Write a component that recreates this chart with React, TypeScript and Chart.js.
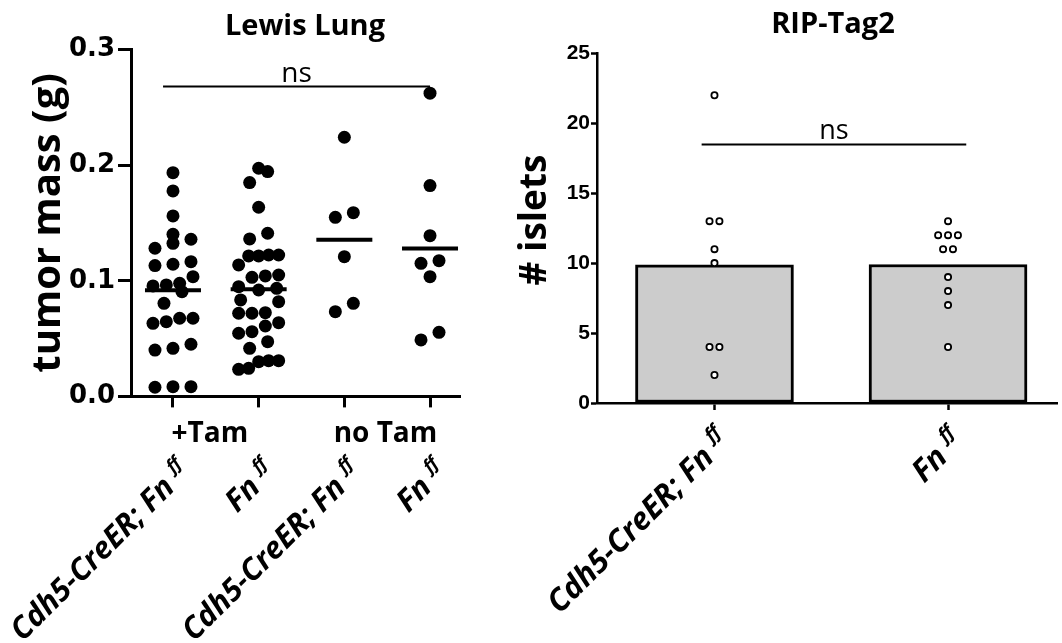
import React, { useEffect, useRef } from "react";
import { Chart, registerables } from "chart.js";

Chart.register(...registerables);

// ---------------- DATA ----------------
// Lewis Lung tumor mass (g)
const lewisCategories = ["Cdh5-CreER; Fn", "Fn", "Cdh5-CreER; Fn", "Fn"];
const lewisSuperscript = "ff";
const lewisGroupLabels = ["+Tam", "no Tam"];
const lewisTitle = "Lewis Lung";
const lewisYTitle = "tumor mass (g)";
const lewisYTicks = [0, 0.1, 0.2, 0.3];
const lewisSignif = "ns";

const tamCdh5 = [
  0.1935, 0.1777, 0.1561, 0.1359, 0.1324, 0.1402, 0.1281, 0.1165, 0.1131, 0.1143,
  0.1035, 0.0964, 0.0955, 0.0906, 0.0978, 0.0805, 0.0676, 0.0632, 0.0646, 0.0676,
  0.0416, 0.0401, 0.0451, 0.0084, 0.0079, 0.0084,
];
const tamFn = [
  0.1944, 0.1973, 0.1849, 0.1636, 0.1411, 0.1362, 0.1215, 0.1223, 0.1137, 0.1223,
  0.1215, 0.1042, 0.103, 0.105, 0.0949, 0.0935, 0.092, 0.0834, 0.0819, 0.0719,
  0.0719, 0.0724, 0.0609, 0.0546, 0.056, 0.0638, 0.0473, 0.0416, 0.0309, 0.0309,
  0.0234, 0.0243, 0.03,
];
const noTamCdh5 = [0.2241, 0.1549, 0.1589, 0.1208, 0.0733, 0.0805];
const noTamFn = [0.2622, 0.1823, 0.139, 0.1151, 0.1174, 0.1035, 0.0488, 0.0554];

// RIP-Tag2 islet counts
const ripCategories = ["Cdh5-CreER; Fn", "Fn"];
const ripSuperscript = "ff";
const ripTitle = "RIP-Tag2";
const ripYTitle = "# islets";
const ripYTicks = [0, 5, 10, 15, 20, 25];
const ripSignif = "ns";
const ripCdh5 = [22, 13, 13, 11, 10, 4, 4, 2];
const ripFn = [13, 12, 12, 12, 11, 11, 9, 8, 7, 4];

// ---------------- LAYOUT ----------------
const H = 643;
const L = { w: 500, left: 131, right: 460, top: 49.5, bottom: 396.4, xMin: -0.49, xMax: 3.35, yMax: 0.3 };
const R = { w: 562, left: 97, right: 562, top: 53.3, bottom: 403, xMin: -0.503, xMax: 1.467, yMax: 25 };

const mean = (a: number[]) => a.reduce((s, v) => s + v, 0) / a.length;

// Prism-like row swarm: values close together share a row and are spread horizontally
function swarm(values: number[], center: number, rowH: number, stepX: number, maxHalf: number) {
  const sorted = [...values].sort((a, b) => a - b);
  const out: { x: number; y: number }[] = [];
  let k = 0;
  while (k < sorted.length) {
    let j = k;
    while (j + 1 < sorted.length && sorted[j + 1] - sorted[k] < rowH) j++;
    const n = j - k + 1;
    const step = n > 1 ? Math.min(stepX, (2 * maxHalf) / (n - 1)) : 0;
    for (let m = 0; m < n; m++) out.push({ x: center + (m - (n - 1) / 2) * step, y: sorted[k + m] });
    k = j + 1;
  }
  return out;
}

const FONT = "'Open Sans', 'DejaVu Sans', sans-serif";

function drawRotLabel(ctx: CanvasRenderingContext2D, ax: number, ay: number, main: string, sup: string, size: number, supSize: number, gap: number, raise: number) {
  ctx.save();
  ctx.translate(ax, ay);
  ctx.rotate(-Math.PI / 4);
  ctx.fillStyle = "#000";
  ctx.font = `italic bold ${size}px ${FONT}`;
  ctx.textAlign = "right";
  ctx.textBaseline = "alphabetic";
  ctx.fillText(main, 0, 0);
  ctx.font = `italic bold ${supSize}px ${FONT}`;
  ctx.textAlign = "left";
  ctx.fillText(sup, gap, -raise);
  ctx.restore();
}

function drawSignif(ctx: CanvasRenderingContext2D, x1: number, x2: number, y: number, text: string, size: number, lift: number) {
  ctx.save();
  ctx.strokeStyle = "#000";
  ctx.lineWidth = 2;
  ctx.beginPath();
  ctx.moveTo(x1, y);
  ctx.lineTo(x2, y);
  ctx.stroke();
  ctx.fillStyle = "#000";
  ctx.font = `${size}px ${FONT}`;
  ctx.textAlign = "center";
  ctx.textBaseline = "alphabetic";
  ctx.fillText(text, (x1 + x2) / 2, y - lift);
  ctx.restore();
}

function drawText(ctx: CanvasRenderingContext2D, text: string, x: number, y: number, font: string, rot = 0, baseline: CanvasTextBaseline = "alphabetic") {
  ctx.save();
  ctx.translate(x, y);
  ctx.rotate(rot);
  ctx.fillStyle = "#000";
  ctx.font = font;
  ctx.textAlign = "center";
  ctx.textBaseline = baseline;
  ctx.fillText(text, 0, 0);
  ctx.restore();
}

function LewisChart() {
  const ref = useRef<HTMLCanvasElement>(null);
  useEffect(() => {
    const groups = [tamCdh5, tamFn, noTamCdh5, noTamFn];
    const pxX = (L.right - L.left) / (L.xMax - L.xMin);
    const pxY = (L.bottom - L.top) / L.yMax;
    const dots = groups.map((vals, i) => ({
      type: "scatter" as const,
      data: swarm(vals, i, 13 / pxY, 18 / pxX, 20 / pxX),
      pointRadius: 6.5,
      pointHoverRadius: 6.5,
      pointBackgroundColor: "#000",
      pointBorderWidth: 0,
      order: 2,
    }));
    const means = {
      type: "scatter" as const,
      data: groups.map((v, i) => ({ x: i, y: mean(v) })),
      pointStyle: "line" as const,
      pointRadius: 28,
      pointHoverRadius: 28,
      pointBorderWidth: 4,
      pointBorderColor: "#000",
      order: 1,
    };
    const annot = {
      id: "lewisAnnot",
      afterDraw(chart: any) {
        const ctx = chart.ctx as CanvasRenderingContext2D;
        const xs = chart.scales.x;
        const ys = chart.scales.y;
        drawText(ctx, lewisTitle, 305, 35, `bold 29px ${FONT}`);
        drawText(ctx, lewisYTitle, 49, (L.top + L.bottom) / 2, `bold 40px ${FONT}`, -Math.PI / 2, "middle");
        drawSignif(ctx, xs.getPixelForValue(-0.116), xs.getPixelForValue(3), ys.getPixelForValue(0.268), lewisSignif, 28, 5);
        drawText(ctx, lewisGroupLabels[0], xs.getPixelForValue(0.43), 442, `bold 28px ${FONT}`);
        drawText(ctx, lewisGroupLabels[1], xs.getPixelForValue(2.48), 442, `bold 28px ${FONT}`);
        lewisCategories.forEach((c, i) => {
          drawRotLabel(ctx, xs.getPixelForValue(i) + 3, 489, c, lewisSuperscript, 30.5, 18, 9, 13);
        });
      },
    };
    const chart = new Chart(ref.current!, {
      type: "scatter",
      data: { datasets: [...dots, means] as any },
      options: {
        animation: false,
        responsive: false,
        events: [],
        layout: { padding: { top: L.top, left: 0, right: L.w - L.right, bottom: 0 } },
        plugins: { legend: { display: false }, tooltip: { enabled: false } },
        scales: {
          x: {
            type: "linear",
            min: L.xMin,
            max: L.xMax,
            offset: false,
            afterBuildTicks: (s: any) => { s.ticks = lewisCategories.map((_, i) => ({ value: i })); },
            afterFit: (s: any) => { s.height = H - L.bottom; },
            border: { display: true, color: "#000", width: 3 },
            grid: { offset: false, drawOnChartArea: false, drawTicks: true, tickLength: 11, tickWidth: 3, tickColor: "#000" },
            ticks: { display: false },
          },
          y: {
            type: "linear",
            min: 0,
            max: L.yMax,
            afterBuildTicks: (s: any) => { s.ticks = lewisYTicks.map((v) => ({ value: v })); },
            afterFit: (s: any) => { s.width = L.left; },
            border: { display: true, color: "#000", width: 3 },
            grid: { drawOnChartArea: false, drawTicks: true, tickLength: 13, tickWidth: 3, tickColor: "#000" },
            ticks: {
              color: "#000",
              padding: 3,
              font: { family: "'DejaVu Sans'", weight: "bold", size: 26 },
              callback: (v: any) => Number(v).toFixed(1),
            },
          },
        },
      },
      plugins: [annot],
    } as any);
    return () => chart.destroy();
  }, []);
  return <canvas ref={ref} width={L.w} height={H} style={{ position: "absolute", left: 0, top: 0, width: L.w, height: H, display: "block" }} />;
}

function RipChart() {
  const ref = useRef<HTMLCanvasElement>(null);
  useEffect(() => {
    const groups = [ripCdh5, ripFn];
    const pxX = (R.right - R.left) / (R.xMax - R.xMin);
    const bars = {
      type: "bar" as const,
      data: groups.map((v, i) => ({ x: i, y: mean(v) })),
      backgroundColor: "#cccccc",
      borderColor: "#000",
      borderWidth: 3,
      borderSkipped: false,
      barThickness: 158,
      order: 2,
    };
    const dots = groups.map((vals, i) => ({
      type: "scatter" as const,
      data: swarm(vals, i, 0.5, 10 / pxX, 20 / pxX),
      pointRadius: 3.1,
      pointHoverRadius: 3.1,
      pointBackgroundColor: "#fff",
      pointBorderColor: "#000",
      pointBorderWidth: 1.8,
      order: 1,
    }));
    const annot = {
      id: "ripAnnot",
      afterDraw(chart: any) {
        const ctx = chart.ctx as CanvasRenderingContext2D;
        const xs = chart.scales.x;
        const ys = chart.scales.y;
        drawText(ctx, ripTitle, 333, 33, `bold 29px ${FONT}`);
        drawText(ctx, ripYTitle, 35, 220, `bold 37px ${FONT}`, -Math.PI / 2, "middle");
        drawSignif(ctx, xs.getPixelForValue(-0.055), xs.getPixelForValue(1.078), ys.getPixelForValue(18.48), ripSignif, 27, 6);
        ripCategories.forEach((c, i) => {
          drawRotLabel(ctx, xs.getPixelForValue(i) + 1, 459, c, ripSuperscript, 31, 19, 9, 14);
        });
      },
    };
    const chart = new Chart(ref.current!, {
      type: "bar",
      data: { datasets: [bars, ...dots] as any },
      options: {
        animation: false,
        responsive: false,
        events: [],
        layout: { padding: { top: R.top, left: 0, right: R.w - R.right, bottom: 0 } },
        plugins: { legend: { display: false }, tooltip: { enabled: false } },
        scales: {
          x: {
            type: "linear",
            min: R.xMin,
            max: R.xMax,
            offset: false,
            afterBuildTicks: (s: any) => { s.ticks = ripCategories.map((_, i) => ({ value: i })); },
            afterFit: (s: any) => { s.height = H - R.bottom; },
            border: { display: true, color: "#000", width: 2.5 },
            grid: { offset: false, drawOnChartArea: false, drawTicks: true, tickLength: 7, tickWidth: 2.5, tickColor: "#000" },
            ticks: { display: false },
          },
          y: {
            type: "linear",
            min: 0,
            max: R.yMax,
            afterBuildTicks: (s: any) => { s.ticks = ripYTicks.map((v) => ({ value: v })); },
            afterFit: (s: any) => { s.width = R.left; },
            border: { display: true, color: "#000", width: 2.5 },
            grid: { drawOnChartArea: false, drawTicks: true, tickLength: 6, tickWidth: 2.5, tickColor: "#000" },
            ticks: {
              color: "#000",
              padding: 1,
              font: { family: "'Liberation Sans'", weight: "bold", size: 21 },
            },
          },
        },
      },
      plugins: [annot],
    } as any);
    return () => chart.destroy();
  }, []);
  return <canvas ref={ref} width={R.w} height={H} style={{ position: "absolute", left: L.w, top: 0, width: R.w, height: H, display: "block" }} />;
}

export default function App() {
  useEffect(() => {
    document.body.style.margin = "0";
  }, []);
  return (
    <div style={{ position: "relative", width: L.w + R.w, height: H, overflow: "hidden", background: "#fff" }}>
      <LewisChart />
      <RipChart />
    </div>
  );
}
